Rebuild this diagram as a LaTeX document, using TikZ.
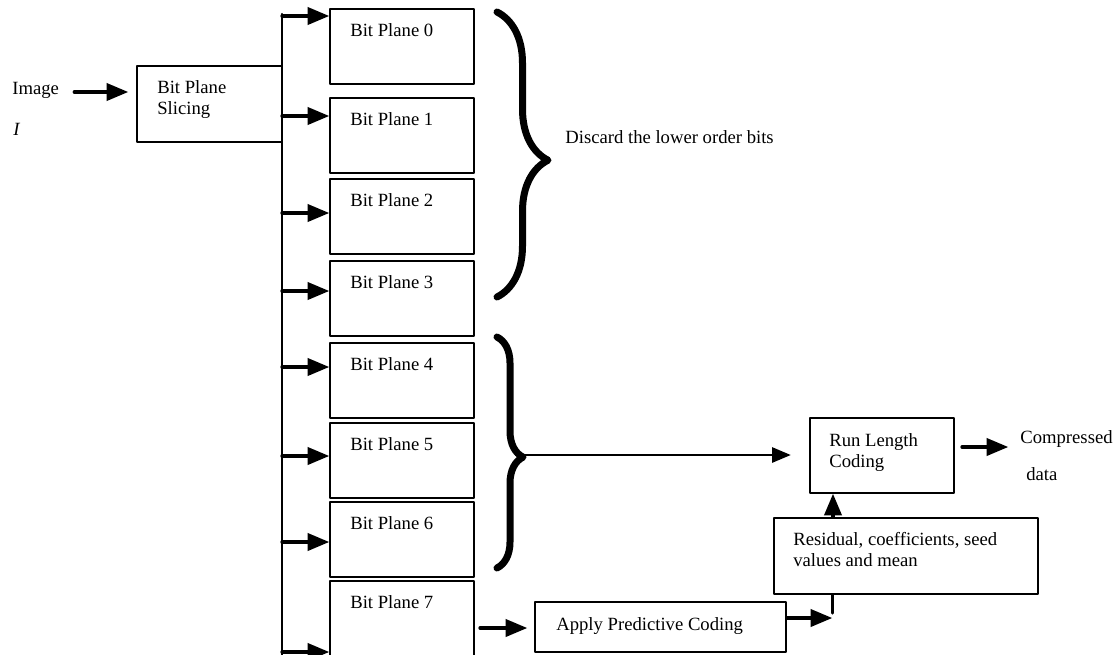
\documentclass[tikz,border=0pt]{standalone}
\usepackage{fontspec}
\setmainfont{Liberation Serif}
\usetikzlibrary{arrows,decorations.pathreplacing}

\begin{document}
\begin{tikzpicture}[line cap=round,line join=round,>=triangle 45,x=0.6pt,y=-0.6pt,
  box/.style={draw,line width=1.2pt,anchor=north west,inner sep=0pt},
  plane/.style={box,minimum width=86.4pt,minimum height=45pt},
  txt/.style={anchor=base west,inner sep=0pt,font=\fontsize{11.2}{12.6}\selectfont,align=left},
  arr/.style={->,line width=2pt},
  brc/.style={decorate,decoration={brace,amplitude=#1,aspect=0.52},line width=4.2pt}]
\useasboundingbox (0,0) rectangle (1118,654);
\clip (0,0) rectangle (1118,654);
% input and slicing
\node[txt] (img) at (12,94) {Image};
\node[txt] (imgI) at (13,135) {\textit{I}};
\node[box,minimum width=87pt,minimum height=45.6pt] (bps) at (136,65) {};
\node[txt,anchor=north west] (bpst) at (157,80.3) {Bit Plane\\Slicing};
\draw[arr,shorten <=9pt,shorten >=4.8pt] (img.east |- 0,92) -- (bps.west |- 0,92);
% bus
\coordinate (bt) at (282,14);
\coordinate (bb) at (282,660);
\draw[line width=1.5pt] (bt) -- (bb);
% bit planes
\foreach \i/\t/\a in {0/8/16,1/97/116,2/178/213,3/260/291,4/342/367,5/422/456,6/501/542,7/580/652} {
  \node[plane] (bp\i) at (329,\t) {};
  \node[txt] (lb\i) at ([shift={(21,28)}]bp\i.north west) {Bit Plane \i};
  \draw[arr] (bt |- 0,\a) -- (bp\i.west |- 0,\a);
}
% braces
\draw[brc=30.6pt] (497,12) -- (497,297);
\node[txt] (disc) at (565,143) {Discard the lower order bits};
\draw[brc=15.6pt] (497,337) -- (497,568);
\coordinate (br2) at (525,455);
% coding
\node[box,minimum width=86.4pt,minimum height=45pt] (rlc) at (809,417) {};
\node[txt,anchor=north west] (rlct) at (829,433) {Run Length\\Coding};
\draw[->,line width=1.6pt,shorten >=11pt] (br2) -- (rlc.west |- br2);
\node[txt] (cmp) at (1020,443) {Compressed};
\node[txt] (dat) at (1026,480) {data};
\draw[arr,shorten <=4.2pt,shorten >=7.2pt] (rlc.east |- 0,447) -- (cmp.west |- 0,447);
\node[box,minimum width=158.4pt,minimum height=45.6pt] (res) at (773,517) {};
\node[txt,anchor=north west] (rest) at (793,532) {Residual, coefficients, seed\\values and mean};
\draw[arr] (res.north -| 833,0) -- (rlc.south -| 833,0);
\node[box,minimum width=150.6pt,minimum height=30pt] (apc) at (534,601) {};
\node[txt] (apct) at (556,630) {Apply Predictive Coding};
\draw[arr,shorten <=3pt,shorten >=4.2pt] (bp7.east |- 0,628) -- (apc.west |- 0,628);
\coordinate (jn) at (832,618);
\draw[arr] (apc.east |- jn) -- (jn);
\draw[line width=1.8pt] (res.south -| jn) -- (jn |- 0,613);
\end{tikzpicture}
\end{document}
